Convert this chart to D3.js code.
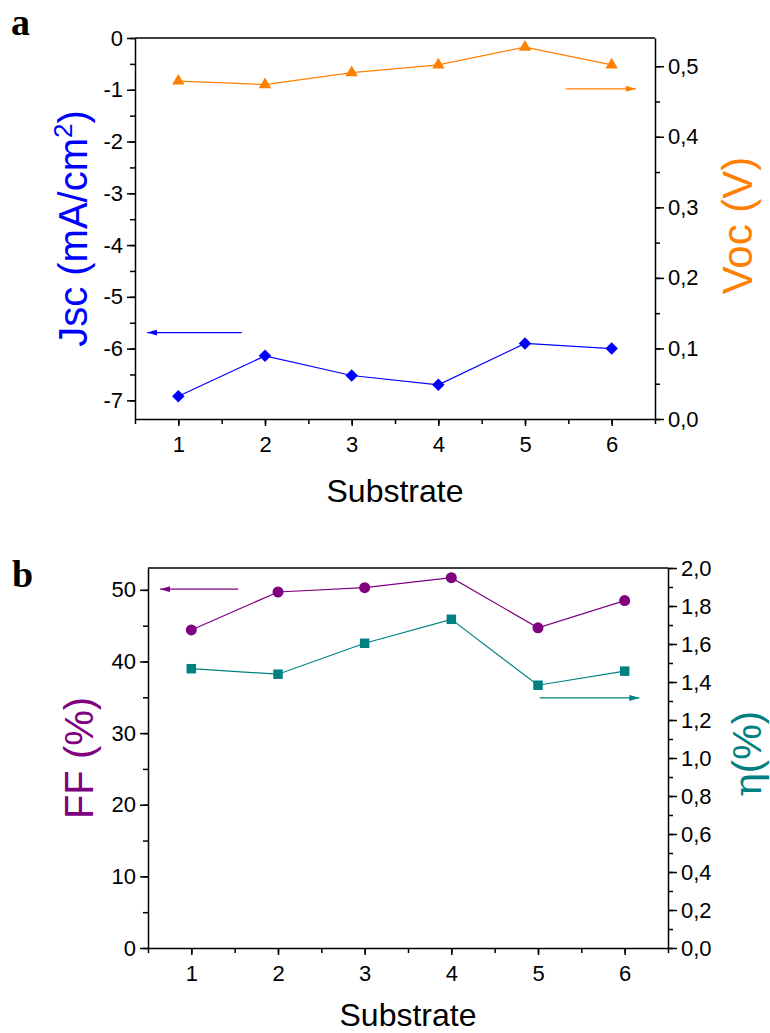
<!DOCTYPE html>
<html>
<head>
<meta charset="utf-8">
<script src="https://cdn.jsdelivr.net/npm/d3@7"></script>
<style>
  body { margin: 0; background: #fff; }
  svg { display: block; }
  text { font-family: "Liberation Sans", Arial, sans-serif; }
</style>
</head>
<body>
<svg id="chart" width="770" height="1033"></svg>
<script>
// substrate index, shared by both panels
const substrates = [1, 2, 3, 4, 5, 6]

// panel a
const jsc = [-6.92, -6.14, -6.52, -6.70, -5.90, -6.00]
const voc = [0.479, 0.474, 0.491, 0.502, 0.527, 0.502]
const jscTicks = [0, -1, -2, -3, -4, -5, -6, -7]
const vocTicks = [0, 0.1, 0.2, 0.3, 0.4, 0.5]

// panel b
const ff = [44.4, 49.7, 50.3, 51.7, 44.7, 48.5]
const eta = [1.470, 1.441, 1.604, 1.730, 1.383, 1.457]
const ffTicks = [0, 10, 20, 30, 40, 50]
const etaTicks = [0, 0.2, 0.4, 0.6, 0.8, 1.0, 1.2, 1.4, 1.6, 1.8, 2.0]

const orange = "#ff8000"
const blue = "#0000ff"
const purple = "#800080"
const teal = "#008080"

const svg = d3.select("#chart")

const defs = svg.append("defs")
;[["orange", orange], ["blue", blue], ["purple", purple], ["teal", teal]].forEach(([id, c]) => {
    defs.append("marker")
        .attr("id", "arr-" + id)
        .attr("viewBox", "0 0 10 6")
        .attr("refX", 10).attr("refY", 3)
        .attr("markerWidth", 10).attr("markerHeight", 6)
        .attr("markerUnits", "userSpaceOnUse")
        .attr("orient", "auto")
        .append("path").attr("d", "M0,0L10,3L0,6Z").attr("fill", c)
})

const commaFmt = (d) => d3.format(".1f")(d).replace(".", ",")
const plainFmt = (d) => String(d)

function drawAxes(g, x, yL, yR, cfg) {
    const [x0, x1] = x.range()
    const [yb, yt] = yL.range()

    // bottom
    g.append("g").attr("transform", `translate(0,${yb})`)
        .call(d3.axisBottom(x).tickValues(d3.range(0.5, 6.51, 0.5)).tickSize(5).tickFormat(""))
        .call(s => s.select(".domain").remove())
    g.append("g").attr("transform", `translate(0,${yb})`)
        .call(d3.axisBottom(x).tickValues(substrates).tickSize(7).tickSizeOuter(0).tickPadding(10).tickFormat(plainFmt))
        .call(s => s.selectAll("text").attr("font-size", 22))

    // left
    g.append("g").attr("transform", `translate(${x0},0)`)
        .call(d3.axisLeft(yL).tickValues(cfg.leftMinor).tickSize(5).tickFormat(""))
        .call(s => s.select(".domain").remove())
    g.append("g").attr("transform", `translate(${x0},0)`)
        .call(d3.axisLeft(yL).tickValues(cfg.leftTicks).tickSize(8).tickSizeOuter(0).tickPadding(4).tickFormat(plainFmt))
        .call(s => s.selectAll("text").attr("font-size", 22))

    // right
    g.append("g").attr("transform", `translate(${x1},0)`)
        .call(d3.axisRight(yR).tickValues(cfg.rightMinor).tickSize(5).tickFormat(""))
        .call(s => s.select(".domain").remove())
    g.append("g").attr("transform", `translate(${x1},0)`)
        .call(d3.axisRight(yR).tickValues(cfg.rightTicks).tickSize(9).tickSizeOuter(0).tickPadding(4).tickFormat(commaFmt))
        .call(s => s.selectAll("text").attr("font-size", 22))

    // top frame
    g.append("line").attr("x1", x0).attr("x2", x1).attr("y1", yt).attr("y2", yt)
        .attr("stroke", "#000").attr("stroke-width", 1.5)

    g.selectAll(".domain, .tick line").attr("stroke-width", 1.5)

    g.append("text")
        .attr("x", (x0 + x1) / 2).attr("y", yb + cfg.titleOffset)
        .attr("text-anchor", "middle").attr("font-size", 32)
        .text("Substrate")
}

function drawSeries(g, x, y, values, color, symbol, size, rotate) {
    const pts = substrates.map((s, i) => [x(s), y(values[i])])
    g.append("path")
        .attr("d", d3.line()(pts))
        .attr("fill", "none").attr("stroke", color).attr("stroke-width", 1.2)
    g.append("g").selectAll("path")
        .data(pts)
        .join("path")
        .attr("d", d3.symbol(symbol, size))
        .attr("transform", d => `translate(${d[0]},${d[1]}) rotate(${rotate})`)
        .attr("fill", color)
}

function drawArrow(g, x, y, from, to, level, id, color) {
    g.append("line")
        .attr("x1", x(from)).attr("x2", x(to))
        .attr("y1", y(level)).attr("y2", y(level))
        .attr("stroke", color).attr("stroke-width", 1.2)
        .attr("marker-end", `url(#arr-${id})`)
}

// ---------- panel a ----------
const ga = svg.append("g")
const xa = d3.scaleLinear([0.5, 6.5], [135, 655])
const ya = d3.scaleLinear([-7.36, 0], [419, 38])
const yaR = d3.scaleLinear([0, 0.54], [419, 38])

drawAxes(ga, xa, ya, yaR, {
    leftTicks: jscTicks,
    leftMinor: d3.range(-7, 0.01, 0.5),
    rightTicks: vocTicks,
    rightMinor: d3.range(0, 0.5001, 0.05),
    titleOffset: 83
})

drawSeries(ga, xa, yaR, voc, orange, d3.symbolTriangle, 66, 0)
drawSeries(ga, xa, ya, jsc, blue, d3.symbolSquare, 78, 45)
drawArrow(ga, xa, yaR, 5.47, 6.28, 0.468, "orange", orange)
drawArrow(ga, xa, ya, 1.73, 0.64, -5.69, "blue", blue)

ga.append("text")
    .attr("transform", `translate(87,${(38 + 419) / 2}) rotate(-90)`)
    .attr("text-anchor", "middle").attr("font-size", 40).attr("fill", blue)
    .call(t => {
        t.append("tspan").text("Jsc (mA/cm")
        t.append("tspan").attr("dy", -15).attr("font-size", 26).text("2")
        t.append("tspan").attr("dy", 15).text(")")
    })

ga.append("text")
    .attr("transform", `translate(752,${(38 + 419) / 2 - 3}) rotate(-90)`)
    .attr("text-anchor", "middle").attr("font-size", 42).attr("fill", orange)
    .text("Voc (V)")

svg.append("text")
    .attr("x", 11).attr("y", 35)
    .style("font-family", "'Liberation Serif', 'DejaVu Serif', serif").attr("font-weight", "bold").attr("font-size", 38)
    .text("a")

// ---------- panel b ----------
const gb = svg.append("g")
const xb = d3.scaleLinear([0.5, 6.5], [148, 668])
const yb = d3.scaleLinear([0, 53.05], [948, 568])
const ybR = d3.scaleLinear([0, 2], [948, 568])

drawAxes(gb, xb, yb, ybR, {
    leftTicks: ffTicks,
    leftMinor: d3.range(0, 50.01, 5),
    rightTicks: etaTicks,
    rightMinor: d3.range(0, 2.001, 0.1),
    titleOffset: 78
})

drawSeries(gb, xb, yb, ff, purple, d3.symbolCircle, 95, 0)
drawSeries(gb, xb, ybR, eta, teal, d3.symbolSquare, 90, 0)
drawArrow(gb, xb, yb, 1.54, 0.64, 50.1, "purple", purple)
drawArrow(gb, xb, ybR, 5.02, 6.17, 1.316, "teal", teal)

gb.append("text")
    .attr("transform", `translate(93,${(568 + 948) / 2}) rotate(-90)`)
    .attr("text-anchor", "middle").attr("font-size", 40).attr("fill", purple)
    .text("FF (%)")

gb.append("text")
    .attr("transform", `translate(761,${(568 + 948) / 2 - 4}) rotate(-90)`)
    .attr("text-anchor", "middle").attr("font-size", 40).attr("fill", teal)
    .call(t => {
        t.append("tspan").style("font-family", "'DejaVu Serif', serif").text("η")
        t.append("tspan").text("(%)")
    })

svg.append("text")
    .attr("x", 12).attr("y", 587)
    .style("font-family", "'Liberation Serif', 'DejaVu Serif', serif").attr("font-weight", "bold").attr("font-size", 38)
    .text("b")
</script>
</body>
</html>
